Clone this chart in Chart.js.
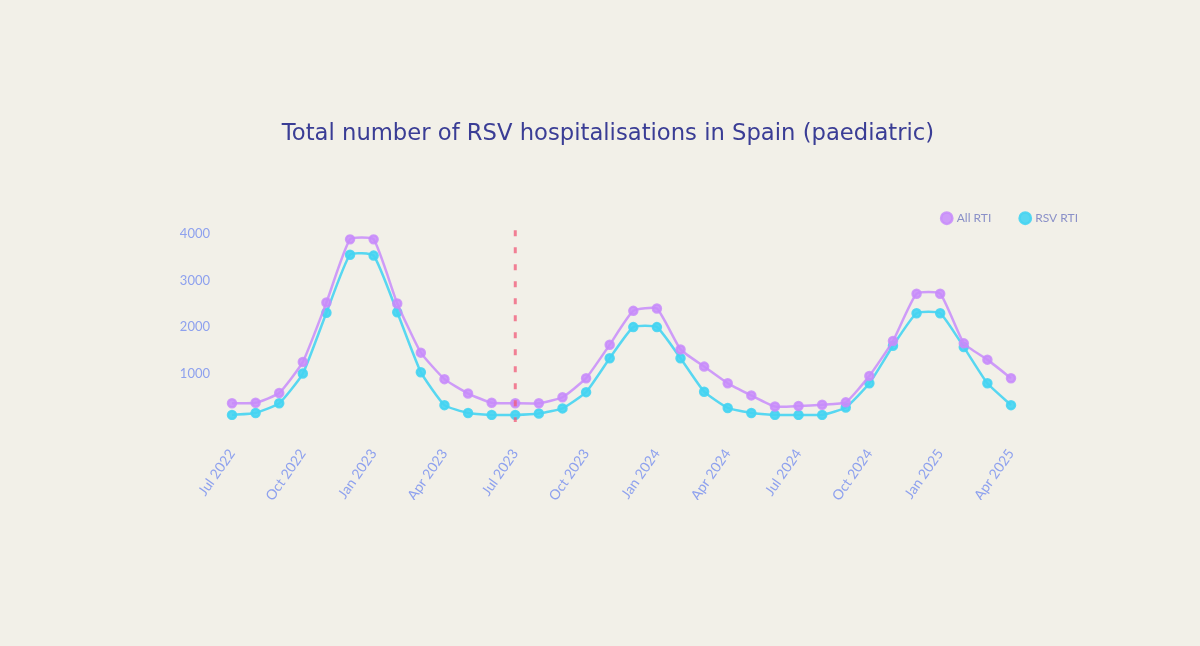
<!DOCTYPE html>
<html>
<head>
<meta charset="utf-8">
<script src="https://cdn.jsdelivr.net/npm/chart.js@4"></script>
<style>
  html, body { margin: 0; padding: 0; background: #f2f0e8; }
  #wrap { width: 1200px; height: 646px; position: relative; }
</style>
</head>
<body>
<div id="wrap"><canvas id="rsvChart"></canvas></div>
<script>
const monthLabels = [
  "Jul 2022", "Aug 2022", "Sep 2022", "Oct 2022", "Nov 2022", "Dec 2022",
  "Jan 2023", "Feb 2023", "Mar 2023", "Apr 2023", "May 2023", "Jun 2023",
  "Jul 2023", "Aug 2023", "Sep 2023", "Oct 2023", "Nov 2023", "Dec 2023",
  "Jan 2024", "Feb 2024", "Mar 2024", "Apr 2024", "May 2024", "Jun 2024",
  "Jul 2024", "Aug 2024", "Sep 2024", "Oct 2024", "Nov 2024", "Dec 2024",
  "Jan 2025", "Feb 2025", "Mar 2025", "Apr 2025"
];

const allRti = [
  360, 370, 580, 1250, 2530, 3890, 3890, 2510, 1450, 880, 570, 370,
  360, 360, 490, 900, 1620, 2350, 2400, 1520, 1150, 790, 530, 290,
  300, 330, 380, 950, 1700, 2720, 2720, 1650, 1300, 900
];

const rsvRti = [
  110, 150, 360, 1000, 2310, 3560, 3540, 2320, 1030, 320, 150, 110,
  110, 140, 250, 600, 1330, 2000, 2000, 1330, 610, 260, 150, 110,
  110, 110, 270, 790, 1600, 2300, 2300, 1570, 790, 320
];

const yTicks = [1000, 2000, 3000, 4000];
const shownMonths = ["Jan", "Apr", "Jul", "Oct"];
const markerMonth = "Jul 2023";

const tickColor = "#8ea1ee";

// dotted red line marking the season change
const markerLine = {
  id: "markerLine",
  afterDatasetsDraw(chart) {
    const { ctx, chartArea, scales } = chart;
    const x = scales.x.getPixelForValue(monthLabels.indexOf(markerMonth));
    ctx.save();
    ctx.strokeStyle = "rgba(240, 90, 120, 0.75)";
    ctx.lineWidth = 3;
    ctx.setLineDash([6, 11]);
    ctx.beginPath();
    ctx.moveTo(x, chartArea.top - 4);
    ctx.lineTo(x, chartArea.bottom + 2);
    ctx.stroke();
    ctx.restore();
  }
};

const ctx = document.getElementById("rsvChart");

new Chart(ctx, {
  type: "line",
  data: {
    labels: monthLabels,
    datasets: [
      {
        label: "All RTI",
        data: allRti,
        borderColor: "rgba(200, 140, 250, 0.85)",
        backgroundColor: "rgba(200, 140, 250, 0.85)",
        borderWidth: 2.5,
        pointRadius: 4,
        pointHoverRadius: 5,
        tension: 0.15
      },
      {
        label: "RSV RTI",
        data: rsvRti,
        borderColor: "rgba(70, 212, 242, 0.9)",
        backgroundColor: "rgba(70, 212, 242, 0.9)",
        borderWidth: 2.5,
        pointRadius: 4,
        pointHoverRadius: 5,
        tension: 0.15
      }
    ]
  },
  options: {
    responsive: true,
    maintainAspectRatio: false,
    animation: false,
    layout: {
      padding: { left: 108, right: 92, top: 110, bottom: 146 }
    },
    plugins: {
      title: {
        display: true,
        text: "Total number of RSV hospitalisations in Spain (paediatric)",
        color: "#3a3d95",
        font: { family: "DejaVu Sans", size: 22.7, weight: "normal" },
        padding: { top: 10, bottom: 35 }
      },
      legend: {
        position: "top",
        align: "end",
        labels: {
          usePointStyle: true,
          pointStyle: "circle",
          boxWidth: 8,
          boxHeight: 8,
          padding: 30,
          color: "#8a90c8",
          font: { family: "Lato", size: 12 }
        }
      },
      tooltip: { enabled: false }
    },
    scales: {
      x: {
        afterFit: scale => { scale.height = 80; },
        grid: { display: false },
        border: { display: false },
        ticks: {
          autoSkip: false,
          maxRotation: 55,
          minRotation: 55,
          padding: 18,
          color: tickColor,
          font: { family: "Lato", size: 14 },
          callback: function (value) {
            const label = monthLabels[value];
            return shownMonths.includes(label.slice(0, 3)) ? label : "";
          }
        }
      },
      y: {
        min: 0,
        max: 4000,
        afterFit: scale => { scale.width = 124; },
        afterBuildTicks: scale => {
          scale.ticks = yTicks.map(v => ({ value: v }));
        },
        grid: { display: false },
        border: { display: false },
        ticks: {
          padding: 14,
          color: tickColor,
          font: { family: "Lato", size: 13 },
          callback: value => String(value)
        }
      },
      pad: {
        type: "linear",
        position: "right",
        display: true,
        afterFit: scale => { scale.width = 97; },
        grid: { display: false },
        border: { display: false },
        ticks: { display: false }
      }
    }
  },
  plugins: [markerLine]
});
</script>
</body>
</html>
